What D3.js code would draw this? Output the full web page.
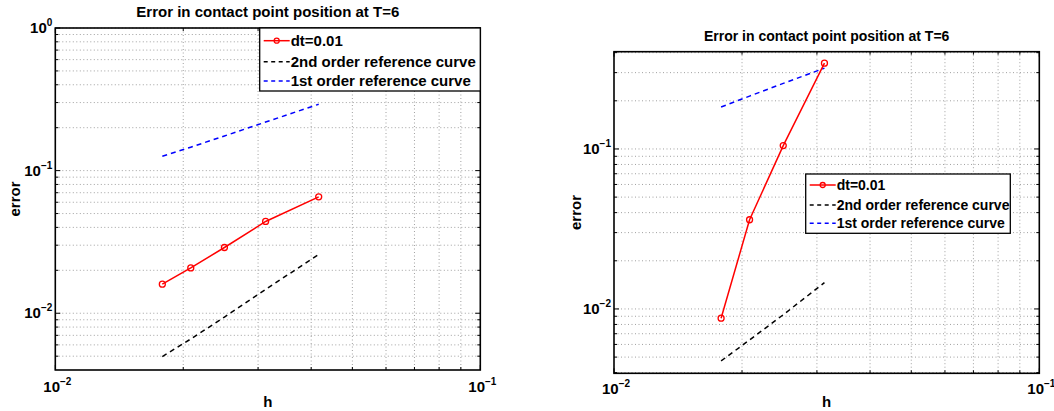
<!DOCTYPE html>
<meta charset="utf-8">
<style>
  body { margin: 0; background: #fff; }
  svg { font-family: "Liberation Sans", Arial, Helvetica, sans-serif; font-weight: bold; }
  .grid line { stroke: #a0a0a0; stroke-width: 1; stroke-dasharray: 1,2.5; }
  .tick-mark { stroke: #000; stroke-width: 1; }
  .frame { fill: none; stroke: #000; stroke-width: 1.6; }
</style>
<body>
<div id="chart"></div>
<script src="https://d3js.org/d3.v7.min.js"></script>
<script>
// mesh sizes h = 1/56, 1/48, 1/40, 1/32, 1/24
var hValues = [1/56, 1/48, 1/40, 1/32, 1/24];

// left panel
var errLeft = [0.0160, 0.0208, 0.0289, 0.0440, 0.0655];
var secondLeft = [0.00497, 0.0066, 0.0094, 0.0147, 0.0258];
var firstLeft = [0.126, 0.146, 0.175, 0.219, 0.292];

// right panel (only the first four h)
var errRight = [0.00875, 0.0361, 0.105, 0.344];
var secondRight = [0.00473, 0.0064, 0.0092, 0.0146];
var firstRight = [0.183, 0.214, 0.257, 0.320];

var legendLabels = ["dt=0.01", "2nd order reference curve", "1st order reference curve"];
var titleText = "Error in contact point position at T=6";

var svg = d3.select("#chart").append("svg")
    .attr("width", 1054)
    .attr("height", 411);

function panel(cfg) {
    var x = d3.scaleLog().domain([0.01, 0.1]).range([cfg.x0, cfg.x1]);
    var y = d3.scaleLog().domain(cfg.ydom).range([cfg.y1, cfg.y0]);
    var g = svg.append("g");

    // minor + major positions
    var xt = [], yt = [];
    for (var k = 1; k <= 10; k++) xt.push(k * 0.01);
    [0.001, 0.01, 0.1].forEach(function (d) {
        for (var k = 1; k <= 9; k++) {
            var v = k * d;
            if (v >= cfg.ydom[0] * 1.0001 && v <= cfg.ydom[1] * 0.9999) yt.push(v);
        }
    });
    if (cfg.ydom[1] >= 1) yt.push(1);
    var isMajor = function (v) { return Math.abs(Math.log10(v) - Math.round(Math.log10(v))) < 1e-6; };

    var grid = g.append("g").attr("class", "grid");
    grid.selectAll(".gx").data(xt.filter(function (v) { return v > 0.0100001 && v < 0.0999; }))
        .enter().append("line")
        .attr("x1", function (d) { return x(d); }).attr("x2", function (d) { return x(d); })
        .attr("y1", cfg.y0).attr("y2", cfg.y1);
    grid.selectAll(".gy").data(yt)
        .enter().append("line")
        .attr("y1", function (d) { return y(d); }).attr("y2", function (d) { return y(d); })
        .attr("x1", cfg.x0).attr("x2", cfg.x1);

    // tick marks inside on all four sides
    var tk = g.append("g");
    xt.forEach(function (v) {
        var L = isMajor(v) ? 5 : 3;
        tk.append("line").attr("class", "tick-mark")
            .attr("x1", x(v)).attr("x2", x(v)).attr("y1", cfg.y1).attr("y2", cfg.y1 - L);
        tk.append("line").attr("class", "tick-mark")
            .attr("x1", x(v)).attr("x2", x(v)).attr("y1", cfg.y0).attr("y2", cfg.y0 + L);
    });
    yt.forEach(function (v) {
        var L = isMajor(v) ? 5 : 3;
        tk.append("line").attr("class", "tick-mark")
            .attr("y1", y(v)).attr("y2", y(v)).attr("x1", cfg.x0).attr("x2", cfg.x0 + L);
        tk.append("line").attr("class", "tick-mark")
            .attr("y1", y(v)).attr("y2", y(v)).attr("x1", cfg.x1).attr("x2", cfg.x1 - L);
    });

    // tick labels
    function powLabel(sel, exp) {
        sel.append("tspan").text("10");
        sel.append("tspan").attr("dy", -7).attr("font-size", 10).text(exp === 0 ? "0" : "\u2212" + (-exp));
    }
    [0.01, 0.1].forEach(function (v) {
        var t = g.append("text").attr("x", x(v) - 12).attr("y", cfg.y1 + cfg.xlabDy)
            .attr("font-size", 15);
        powLabel(t, Math.round(Math.log10(v)));
    });
    yt.filter(isMajor).forEach(function (v) {
        var t = g.append("text").attr("x", cfg.x0 - 3).attr("y", y(v) + 5)
            .attr("text-anchor", "end").attr("font-size", 15);
        powLabel(t, Math.round(Math.log10(v)));
    });

    g.append("rect").attr("class", "frame")
        .attr("x", cfg.x0).attr("y", cfg.y0)
        .attr("width", cfg.x1 - cfg.x0).attr("height", cfg.y1 - cfg.y0);

    // titles
    g.append("text").attr("x", (cfg.x0 + cfg.x1) / 2).attr("y", cfg.titleY)
        .attr("text-anchor", "middle").attr("font-size", cfg.titleSize).text(titleText);
    g.append("text").attr("x", (cfg.x0 + cfg.x1) / 2).attr("y", 407)
        .attr("text-anchor", "middle").attr("font-size", 15).text("h");
    g.append("text")
        .attr("transform", "translate(" + cfg.ylabX + "," + ((cfg.y0 + cfg.y1) / 2) + ") rotate(-90)")
        .attr("text-anchor", "middle").attr("font-size", 15).text("error");

    var line = d3.line()
        .x(function (d) { return x(d[0]); })
        .y(function (d) { return y(d[1]); });
    var pairs = function (vals) { return vals.map(function (v, i) { return [hValues[i], v]; }); };

    g.append("path").datum(pairs(cfg.second)).attr("d", line)
        .attr("fill", "none").attr("stroke", "#000").attr("stroke-width", 1.5)
        .attr("stroke-dasharray", "5,4");
    g.append("path").datum(pairs(cfg.first)).attr("d", line)
        .attr("fill", "none").attr("stroke", "#0000ff").attr("stroke-width", 1.5)
        .attr("stroke-dasharray", "5,4");
    g.append("path").datum(pairs(cfg.err)).attr("d", line)
        .attr("fill", "none").attr("stroke", "#ff0000").attr("stroke-width", 1.5);
    g.selectAll(".pt").data(pairs(cfg.err)).enter().append("circle")
        .attr("cx", function (d) { return x(d[0]); })
        .attr("cy", function (d) { return y(d[1]); })
        .attr("r", 3).attr("fill", "none").attr("stroke", "#ff0000").attr("stroke-width", 1.3);

    // legend
    var lg = cfg.legend;
    g.append("rect").attr("x", lg.x0).attr("y", lg.y0)
        .attr("width", lg.x1 - lg.x0).attr("height", lg.y1 - lg.y0)
        .attr("fill", "#fff").attr("stroke", "#000").attr("stroke-width", 1.3);
    var styles = [
        { stroke: "#ff0000", dash: null, marker: true },
        { stroke: "#000", dash: "4,3.5", marker: false },
        { stroke: "#0000ff", dash: "4,3.5", marker: false }
    ];
    legendLabels.forEach(function (lab, i) {
        var cy = lg.rows[i];
        g.append("line").attr("x1", lg.x0 + 4).attr("x2", lg.x0 + 30)
            .attr("y1", cy).attr("y2", cy)
            .attr("stroke", styles[i].stroke).attr("stroke-width", 1.5)
            .attr("stroke-dasharray", styles[i].dash);
        if (styles[i].marker) {
            g.append("circle").attr("cx", lg.x0 + 17).attr("cy", cy).attr("r", 2.5)
                .attr("fill", "none").attr("stroke", "#ff0000").attr("stroke-width", 1.3);
        }
        g.append("text").attr("x", lg.x0 + 31).attr("y", cy + lg.size * 0.36)
            .attr("font-size", lg.size).text(lab);
    });
}

panel({
    x0: 55.3, x1: 480.3, y0: 28, y1: 370,
    ydom: [0.004, 1],
    err: errLeft, second: secondLeft, first: firstLeft,
    titleY: 17, titleSize: 15, xlabDy: 22, ylabX: 20,
    legend: { x0: 259.7, x1: 480.3, y0: 28, y1: 91, rows: [40.7, 61.7, 81], size: 15 }
});

panel({
    x0: 614, x1: 1039.3, y0: 51.7, y1: 373.3,
    ydom: [0.00396, 0.4055],
    err: errRight, second: secondRight, first: firstRight,
    titleY: 41, titleSize: 14, xlabDy: 21, ylabX: 581,
    legend: { x0: 805.7, x1: 1010.3, y0: 174, y1: 233.3, rows: [185, 205, 223.3], size: 14 }
});
</script>
</body>
